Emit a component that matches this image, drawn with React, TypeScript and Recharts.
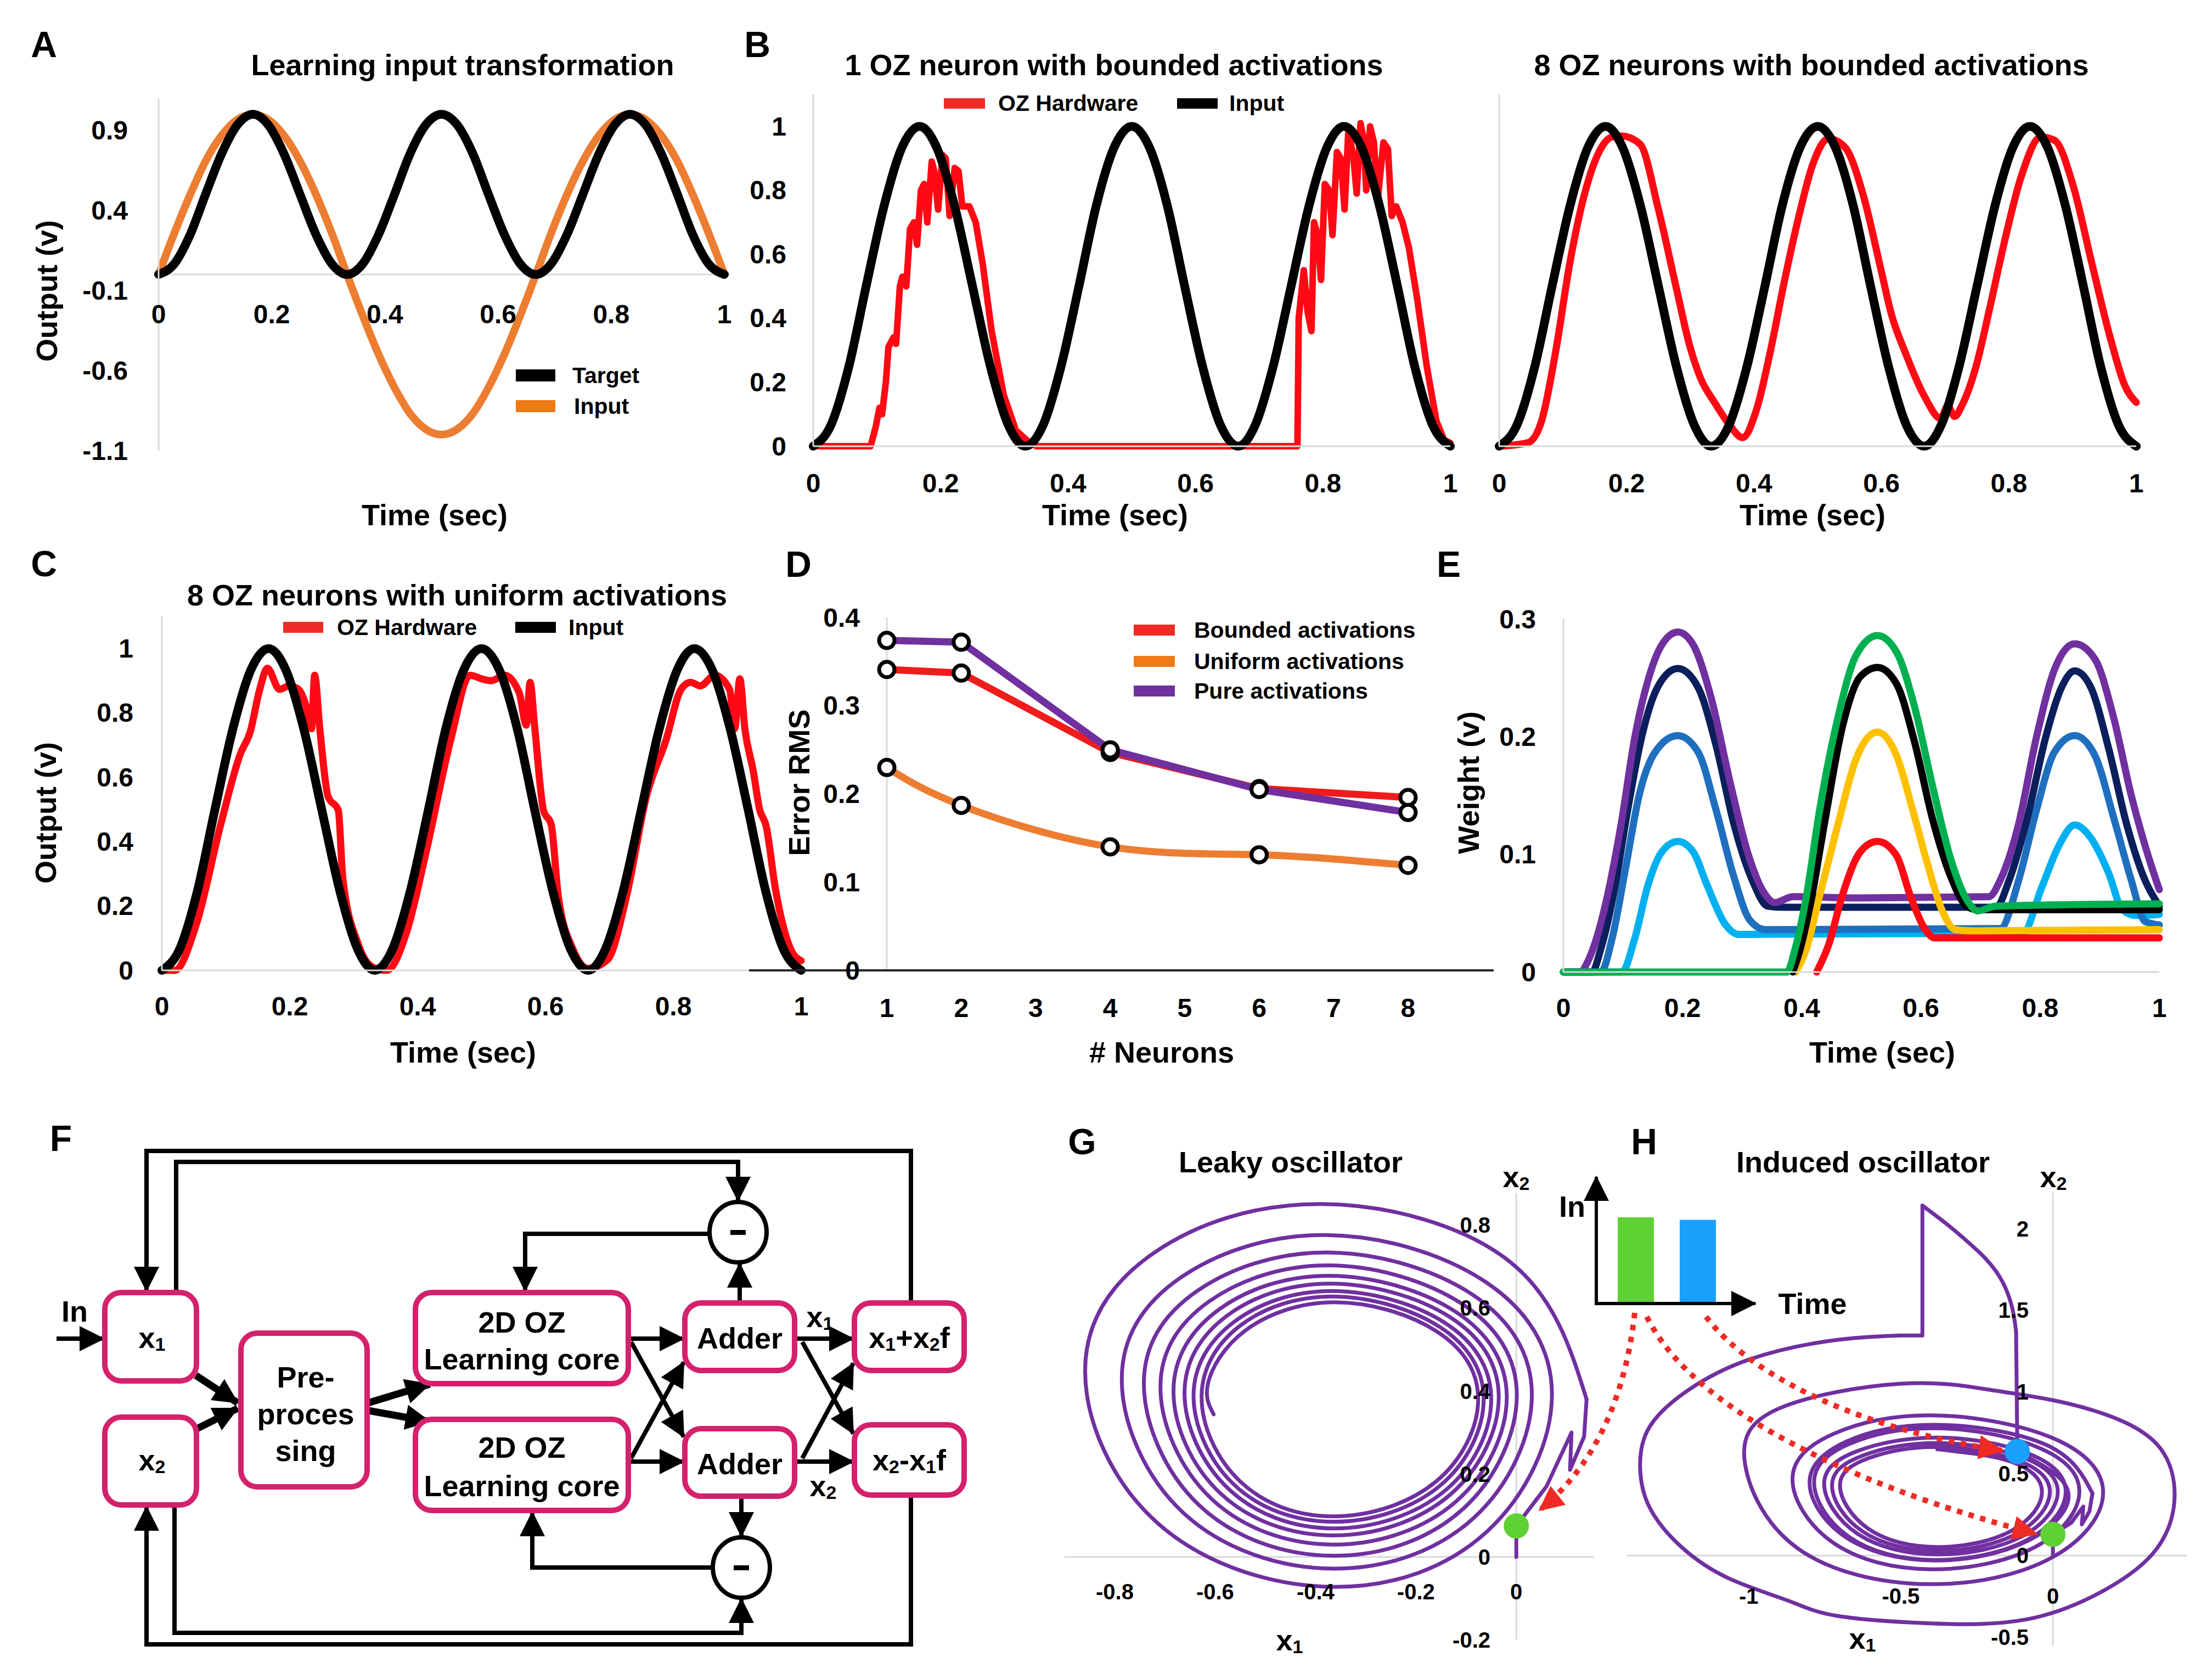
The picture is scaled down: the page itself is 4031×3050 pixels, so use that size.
import React from 'react';
import {
  LineChart,
  Line,
  XAxis,
  YAxis,
  ReferenceLine,
  ComposedChart,
  Scatter,
  BarChart,
  Bar,
  Cell,
} from 'recharts';

const FONT = '"Liberation Sans", Arial, Helvetica, sans-serif';
const GREY = '#d9d9d9';
const RED = '#ff0a14';
const PURPLE = '#7030a0';

// ---- shared time grid (1/36 s) for the clean sinusoid-like traces ----
const tGrid = [
  0, 0.028, 0.056, 0.083, 0.111, 0.139, 0.167, 0.194, 0.222, 0.25, 0.278, 0.306, 0.333, 0.361,
  0.389, 0.417, 0.444, 0.472, 0.5, 0.528, 0.556, 0.583, 0.611, 0.639, 0.667, 0.694, 0.722, 0.75,
  0.778, 0.806, 0.833, 0.861, 0.889, 0.917, 0.944, 0.972, 1,
];
const humps = [
  0, 0.067, 0.25, 0.5, 0.75, 0.933, 1, 0.933, 0.75, 0.5, 0.25, 0.067, 0, 0.067, 0.25, 0.5, 0.75,
  0.933, 1, 0.933, 0.75, 0.5, 0.25, 0.067, 0, 0.067, 0.25, 0.5, 0.75, 0.933, 1, 0.933, 0.75, 0.5,
  0.25, 0.067, 0,
];
const sineInput = [
  0, 0.259, 0.5, 0.707, 0.866, 0.966, 1, 0.966, 0.866, 0.707, 0.5, 0.259, 0, -0.259, -0.5, -0.707,
  -0.866, -0.966, -1, -0.966, -0.866, -0.707, -0.5, -0.259, 0, 0.259, 0.5, 0.707, 0.866, 0.966, 1,
  0.966, 0.866, 0.707, 0.5, 0.259, 0,
];

// ---- panel B / C hardware outputs [t, v] ----
const bLeftRed = [
  [0, 0], [0.09, 0], [0.098, 0.06], [0.104, 0.12], [0.108, 0.1], [0.114, 0.2], [0.118, 0.31],
  [0.126, 0.34], [0.13, 0.32], [0.136, 0.5], [0.14, 0.53], [0.146, 0.5], [0.152, 0.68],
  [0.158, 0.7], [0.163, 0.63], [0.169, 0.8], [0.174, 0.82], [0.179, 0.7], [0.186, 0.89],
  [0.19, 0.86], [0.196, 0.74], [0.203, 0.91], [0.208, 0.9], [0.214, 0.72], [0.222, 0.87],
  [0.228, 0.86], [0.234, 0.75], [0.245, 0.75], [0.255, 0.7], [0.266, 0.57], [0.28, 0.36],
  [0.299, 0.16], [0.318, 0.05], [0.34, 0.01], [0.35, 0], [0.76, 0], [0.762, 0.4], [0.77, 0.55],
  [0.776, 0.42], [0.782, 0.36], [0.786, 0.7], [0.792, 0.66], [0.797, 0.52], [0.803, 0.82],
  [0.81, 0.8], [0.815, 0.66], [0.822, 0.92], [0.828, 0.9], [0.834, 0.74], [0.84, 0.99],
  [0.848, 0.9], [0.853, 0.79], [0.859, 1.01], [0.864, 0.96], [0.868, 0.8], [0.874, 1.0],
  [0.88, 0.95], [0.886, 0.77], [0.895, 0.95], [0.902, 0.93], [0.908, 0.72], [0.915, 0.75],
  [0.925, 0.7], [0.935, 0.62], [0.948, 0.46], [0.963, 0.25], [0.978, 0.08], [0.99, 0.02],
  [1, 0.01],
];
const bRightRed = [
  [0, 0], [0.045, 0.011], [0.067, 0.082], [0.089, 0.3], [0.111, 0.574], [0.133, 0.781],
  [0.155, 0.913], [0.177, 0.967], [0.192, 0.97], [0.221, 0.945], [0.25, 0.74], [0.279, 0.486],
  [0.298, 0.322], [0.316, 0.213], [0.338, 0.137], [0.36, 0.071], [0.382, 0.027], [0.404, 0.115],
  [0.426, 0.3], [0.448, 0.519], [0.47, 0.716], [0.492, 0.88], [0.517, 0.962], [0.543, 0.934],
  [0.572, 0.781], [0.598, 0.563], [0.616, 0.41], [0.638, 0.29], [0.667, 0.158], [0.693, 0.087],
  [0.704, 0.126], [0.715, 0.093], [0.726, 0.126], [0.748, 0.246], [0.77, 0.432], [0.792, 0.63],
  [0.82, 0.847], [0.85, 0.967], [0.872, 0.956], [0.901, 0.814], [0.93, 0.574], [0.96, 0.333],
  [0.982, 0.19], [1, 0.137],
];
const cRed = [
  [0, 0], [0.02, 0], [0.054, 0.144], [0.092, 0.453], [0.123, 0.674], [0.138, 0.74],
  [0.153, 0.873], [0.165, 0.939], [0.184, 0.873], [0.199, 0.884], [0.214, 0.873], [0.226, 0.818],
  [0.234, 0.751], [0.239, 0.917], [0.247, 0.751], [0.26, 0.54], [0.276, 0.497], [0.283, 0.287],
  [0.306, 0.088], [0.329, 0.011], [0.352, 0], [0.383, 0.12], [0.413, 0.365], [0.452, 0.718],
  [0.482, 0.917], [0.5, 0.906], [0.515, 0.9], [0.536, 0.917], [0.559, 0.862], [0.57, 0.762],
  [0.576, 0.895], [0.583, 0.76], [0.597, 0.497], [0.609, 0.453], [0.62, 0.232], [0.643, 0.066],
  [0.666, 0.006], [0.697, 0.033], [0.727, 0.232], [0.758, 0.541], [0.789, 0.718], [0.812, 0.873],
  [0.827, 0.895], [0.842, 0.884], [0.865, 0.917], [0.888, 0.873], [0.896, 0.751], [0.904, 0.906],
  [0.912, 0.75], [0.925, 0.62], [0.935, 0.5], [0.945, 0.45], [0.96, 0.25], [0.985, 0.06],
  [1, 0.03],
];

// ---- panel D ----
const neurons = [1, 2, 4, 6, 8];
const rmsBounded = [0.341, 0.337, 0.247, 0.206, 0.196];
const rmsUniform = [0.23, 0.187, 0.14, 0.131, 0.119];
const rmsPure = [0.374, 0.372, 0.25, 0.205, 0.179];

// ---- panel E weights [t, w] ----
const ePurple = [
  [0, 0], [0.029, 0], [0.04, 0.008], [0.052, 0.023], [0.074, 0.065], [0.097, 0.126], [0.12, 0.2],
  [0.142, 0.248], [0.165, 0.278], [0.192, 0.289], [0.218, 0.278], [0.248, 0.233], [0.279, 0.163],
  [0.309, 0.102], [0.336, 0.068], [0.355, 0.059], [0.385, 0.064], [0.5, 0.063], [0.714, 0.064],
  [0.733, 0.078], [0.764, 0.126], [0.794, 0.2], [0.824, 0.257], [0.858, 0.279], [0.892, 0.266],
  [0.923, 0.217], [0.953, 0.15], [0.983, 0.096], [1, 0.07],
];
const eNavy = [
  [0, 0], [0.048, 0], [0.063, 0.02], [0.086, 0.071], [0.108, 0.138], [0.131, 0.199],
  [0.158, 0.242], [0.192, 0.258], [0.226, 0.242], [0.256, 0.193], [0.286, 0.126], [0.317, 0.078],
  [0.343, 0.056], [0.37, 0.055], [0.726, 0.055], [0.748, 0.078], [0.779, 0.132], [0.809, 0.199],
  [0.836, 0.242], [0.858, 0.256], [0.885, 0.242], [0.915, 0.19], [0.945, 0.126], [0.976, 0.078],
  [1, 0.056],
];
const eBlue = [
  [0, 0], [0.063, 0], [0.082, 0.029], [0.105, 0.09], [0.127, 0.15], [0.154, 0.187], [0.192, 0.201],
  [0.226, 0.187], [0.256, 0.138], [0.286, 0.081], [0.313, 0.044], [0.339, 0.036], [0.733, 0.037],
  [0.764, 0.078], [0.794, 0.138], [0.824, 0.187], [0.858, 0.201], [0.892, 0.184], [0.923, 0.132],
  [0.953, 0.078], [0.976, 0.043], [1, 0.04],
];
const eLight = [
  [0, 0], [0.098, 0], [0.12, 0.029], [0.142, 0.074], [0.165, 0.102], [0.192, 0.111],
  [0.218, 0.102], [0.241, 0.074], [0.271, 0.041], [0.294, 0.032], [0.771, 0.033], [0.802, 0.071],
  [0.832, 0.108], [0.858, 0.125], [0.885, 0.114], [0.915, 0.084], [0.938, 0.053], [0.961, 0.048],
  [1, 0.049],
];
const eGreen = [
  [0, 0], [0.375, 0], [0.389, 0.02], [0.408, 0.065], [0.43, 0.138], [0.461, 0.217], [0.491, 0.269],
  [0.527, 0.286], [0.559, 0.272], [0.589, 0.226], [0.62, 0.157], [0.65, 0.096], [0.68, 0.059],
  [0.695, 0.052], [0.726, 0.056], [1, 0.058],
];
const eBlack = [
  [0.385, 0], [0.396, 0.017], [0.415, 0.059], [0.438, 0.126], [0.468, 0.208], [0.498, 0.251],
  [0.527, 0.259], [0.559, 0.245], [0.589, 0.196], [0.62, 0.129], [0.65, 0.081], [0.677, 0.056],
  [0.695, 0.053], [1, 0.053],
];
const eYellow = [
  [0.39, 0], [0.408, 0.02], [0.43, 0.065], [0.461, 0.126], [0.491, 0.181], [0.527, 0.204],
  [0.559, 0.184], [0.586, 0.138], [0.612, 0.09], [0.635, 0.053], [0.658, 0.036], [0.688, 0.035],
  [1, 0.036],
];
const eRed = [
  [0.425, 0], [0.445, 0.023], [0.468, 0.065], [0.498, 0.102], [0.527, 0.111], [0.559, 0.099],
  [0.582, 0.065], [0.605, 0.038], [0.623, 0.029], [0.658, 0.029], [1, 0.029],
];

// ---- panel G leaky oscillator [x1, x2] ----
const gStart = [[0, 0], [0, 0.075], [0.06, 0.17], [0.11, 0.3], [0.107, 0.21], [0.135, 0.29], [0.14, 0.38]];
const gSpiral = [
  [0.14, 0.38], [-0.014, 0.713], [-0.387, 0.851], [-0.721, 0.734], [-0.859, 0.45], [-0.714, 0.081],
  [-0.365, -0.072], [-0.057, 0.063], [0.071, 0.39], [-0.061, 0.663], [-0.38, 0.776], [-0.667, 0.675],
  [-0.786, 0.43], [-0.663, 0.106], [-0.365, -0.028], [-0.085, 0.094], [0.031, 0.39], [-0.088, 0.633],
  [-0.376, 0.734], [-0.635, 0.642], [-0.742, 0.42], [-0.632, 0.125], [-0.365, 0.003], [-0.106, 0.116],
  [0.001, 0.39], [-0.109, 0.611], [-0.374, 0.703], [-0.611, 0.617], [-0.709, 0.41], [-0.608, 0.141],
  [-0.365, 0.03], [-0.12, 0.134], [-0.019, 0.385], [-0.122, 0.592], [-0.372, 0.678], [-0.592, 0.597],
  [-0.683, 0.4], [-0.59, 0.154], [-0.365, 0.052], [-0.132, 0.15], [-0.035, 0.385], [-0.133, 0.579],
  [-0.37, 0.659], [-0.576, 0.582], [-0.661, 0.395], [-0.574, 0.165], [-0.365, 0.069], [-0.142, 0.16],
  [-0.05, 0.38], [-0.143, 0.565], [-0.368, 0.641], [-0.562, 0.567], [-0.643, 0.39], [-0.562, 0.174],
  [-0.365, 0.085], [-0.153, 0.171], [-0.065, 0.38], [-0.153, 0.555], [-0.366, 0.628], [-0.551, 0.557],
  [-0.627, 0.385], [-0.55, 0.182], [-0.365, 0.098], [-0.161, 0.181], [-0.076, 0.38], [-0.16, 0.545],
  [-0.364, 0.614], [-0.541, 0.545], [-0.614, 0.42], [-0.603, 0.344],
];
const gDot = [[0, 0.075]];

// ---- panel H induced oscillator [x1, x2] ----
const hStart = [[0, 0], [0, 0.13], [0.06, 0.2], [0.1, 0.3], [0.095, 0.19], [0.12, 0.27], [0.13, 0.38]];
const hInner = [
  [0.13, 0.38], [-0.022, 0.677], [-0.39, 0.8], [-0.68, 0.697], [-0.8, 0.45], [-0.68, 0.111],
  [-0.39, -0.03], [-0.079, 0.093], [0.05, 0.39], [-0.117, 0.636],
];
const hRise = [[-0.117, 0.636], [-0.121, 1.369]];
const hArc = [
  [-0.121, 1.369], [-0.134, 1.517], [-0.166, 1.676], [-0.219, 1.812], [-0.284, 1.926],
  [-0.349, 2.028], [-0.429, 2.141],
];
const hDrop = [[-0.429, 2.141], [-0.429, 1.346], [-0.505, 1.346]];
const hOuter = [
  [-0.505, 1.346], [-0.739, 1.312], [-0.999, 1.199], [-1.195, 1.017], [-1.325, 0.79], [-1.357, 0.54],
  [-1.325, 0.291], [-1.221, 0.052], [-1.064, -0.141], [-0.869, -0.277], [-0.713, -0.368],
  [-0.414, -0.414], [-0.088, -0.391], [0.172, -0.209], [0.341, 0.041], [0.4, 0.359], [0.354, 0.654],
  [0.211, 0.836], [0.003, 0.949], [-0.219, 1.017], [-0.505, 1.051], [-0.9, 0.9], [-1.012, 0.56],
  [-0.836, 0.04], [-0.41, -0.175], [-0.003, -0.012], [0.165, 0.38], [0, 0.718], [-0.4, 0.858],
  [-0.722, 0.744], [-0.856, 0.47], [-0.722, 0.078], [-0.4, -0.084], [-0.056, 0.055], [0.087, 0.39],
  [-0.053, 0.665], [-0.39, 0.779], [-0.669, 0.683], [-0.785, 0.45], [-0.669, 0.113], [-0.39, -0.027],
  [-0.085, 0.095], [0.042, 0.39], [-0.082, 0.625], [-0.38, 0.722], [-0.643, 0.639], [-0.752, 0.44],
  [-0.643, 0.134], [-0.38, 0.007], [-0.1, 0.119], [0.016, 0.39], [-0.1, 0.601], [-0.38, 0.688],
  [-0.625, 0.612], [-0.726, 0.43], [-0.625, 0.147], [-0.38, 0.029], [-0.118, 0.135], [-0.01, 0.39],
  [-0.118, 0.584], [-0.38, 0.665], [-0.606, 0.596], [-0.7, 0.43], [-0.606, 0.163], [-0.38, 0.052],
  [-0.137, 0.151], [-0.036, 0.39], [-0.137, 0.574], [-0.38, 0.65],
];
const hGreenDot = [[0, 0.13]];
const hBlueDot = [[-0.117, 0.636]];
const pulses = [
  { name: 'first', v: 1.0, color: '#5fd134' },
  { name: 'second', v: 0.97, color: '#18a0fb' },
];

// ---- tick lists ----
const timeTicks = [0, 0.2, 0.4, 0.6, 0.8, 1];
const aTicks = [-1.1, -0.6, -0.1, 0.4, 0.9];
const unitTicks = [0, 0.2, 0.4, 0.6, 0.8, 1];
const neuronTicks = [1, 2, 3, 4, 5, 6, 7, 8];
const rmsTicks = [0, 0.1, 0.2, 0.3, 0.4];
const weightTicks = [0, 0.1, 0.2, 0.3];
const gxTicks = [-0.8, -0.6, -0.4, -0.2, 0];
const gyTicks = [-0.2, 0, 0.2, 0.4, 0.6, 0.8];
const hxTicks = [-1, -0.5, 0];
const hyTicks = [-0.5, 0, 0.5, 1, 1.5, 2];

const xy = (p: number[][]) => p.map(([x, y]) => ({ x, y }));
const zip = (xs: number[], ys: number[]) => xs.map((x, i) => ({ x, y: ys[i] }));

const Tick = (props: any) => {
  const { x, y, payload, ox = 0, oy = 0, anc = 'middle', fs = 48 } = props;
  return (
    <text
      x={x + ox}
      y={y + oy}
      textAnchor={anc}
      dominantBaseline="central"
      fontFamily={FONT}
      fontWeight={700}
      fontSize={fs}
      fill="#000"
    >
      {String(payload.value)}
    </text>
  );
};

const Box = ({ left, top, children }: any) => (
  <div style={{ position: 'absolute', left, top }}>{children}</div>
);

const T = ({ x, y, s = 54, a = 'middle', r, children }: any) => (
  <text
    x={x}
    y={y}
    fontSize={s}
    textAnchor={a}
    dominantBaseline="central"
    fontWeight={700}
    fontFamily={FONT}
    fill="#000"
    transform={r ? `rotate(${r} ${x} ${y})` : undefined}
  >
    {children}
  </text>
);

const sub = (c: string, fs = 34) => (
  <>
    <tspan fontSize={fs} dy={12}>{c}</tspan>
    <tspan dy={-12}> </tspan>
  </>
);

const lineProps = { dot: false, isAnimationActive: false, strokeLinecap: 'round', strokeLinejoin: 'round' } as any;
const ring = { r: 14, fill: '#fff', stroke: '#000', strokeWidth: 7 };

const PinkBox = ({ x, y, w, h }: any) => (
  <rect x={x} y={y} width={w} height={h} rx={30} ry={30} fill="#fff" stroke="#d4216c" strokeWidth={10} />
);

const App = () => {
  const dotShape = (color: string) => (p: any) => <circle cx={p.cx} cy={p.cy} r={23} fill={color} />;
  return (
    <div
      style={{
        position: 'absolute',
        left: 0,
        top: 0,
        width: 4031,
        height: 3050,
        background: '#fff',
        overflow: 'hidden',
      }}
    >
      {/* A */}
      <Box left={89} top={159}>
        <LineChart width={1251} height={762} margin={{ top: 20, right: 20, left: 0, bottom: 0 }}>
          <XAxis type="number" dataKey="x" domain={[0, 1]} ticks={timeTicks} interval={0} height={100}
            axisLine={false} tickLine={false} tickSize={0} tickMargin={0} tick={<Tick oy={-249} />} />
          <YAxis type="number" domain={[-1.1, 1.1]} ticks={aTicks} interval={0} width={200}
            axisLine={{ stroke: GREY, strokeWidth: 3 }} tickLine={false} tickSize={0} tickMargin={0}
            tick={<Tick ox={-56} anc="end" />} />
          <ReferenceLine y={0} stroke={GREY} strokeWidth={3} />
          <Line data={zip(tGrid, sineInput)} dataKey="y" type="monotone" stroke="#ed7d31" strokeWidth={14} {...lineProps} />
          <Line data={zip(tGrid, humps)} dataKey="y" type="monotone" stroke="#000" strokeWidth={16} {...lineProps} />
        </LineChart>
      </Box>

      {/* B left */}
      <Box left={1332} top={152}>
        <LineChart width={1331} height={761} margin={{ top: 20, right: 20, left: 0, bottom: 0 }}>
          <XAxis type="number" dataKey="x" domain={[0, 1]} ticks={timeTicks} interval={0} height={100}
            axisLine={{ stroke: GREY, strokeWidth: 3 }} tickLine={false} tickSize={0} tickMargin={0} tick={<Tick oy={67} />} />
          <YAxis type="number" domain={[0, 1.1]} ticks={unitTicks} interval={0} width={150}
            axisLine={{ stroke: GREY, strokeWidth: 3 }} tickLine={false} tickSize={0} tickMargin={0}
            tick={<Tick ox={-49} anc="end" />} />
          <Line data={xy(bLeftRed)} dataKey="y" type="linear" stroke={RED} strokeWidth={12} {...lineProps} />
          <Line data={zip(tGrid, humps)} dataKey="y" type="monotone" stroke="#000" strokeWidth={16} {...lineProps} />
        </LineChart>
      </Box>

      {/* B right */}
      <Box left={2712} top={152}>
        <LineChart width={1211} height={761} margin={{ top: 20, right: 30, left: 0, bottom: 0 }}>
          <XAxis type="number" dataKey="x" domain={[0, 1]} ticks={timeTicks} interval={0} height={100}
            axisLine={{ stroke: GREY, strokeWidth: 3 }} tickLine={false} tickSize={0} tickMargin={0} tick={<Tick oy={67} />} />
          <YAxis type="number" domain={[0, 1.1]} width={20} axisLine={{ stroke: GREY, strokeWidth: 3 }}
            tickLine={false} tick={false} />
          <Line data={xy(bRightRed)} dataKey="y" type="monotone" stroke={RED} strokeWidth={13} {...lineProps} />
          <Line data={zip(tGrid, humps)} dataKey="y" type="monotone" stroke="#000" strokeWidth={16} {...lineProps} />
        </LineChart>
      </Box>

      {/* C */}
      <Box left={95} top={1103}>
        <LineChart width={1385} height={765} margin={{ top: 20, right: 20, left: 0, bottom: 0 }}>
          <XAxis type="number" dataKey="x" domain={[0, 1]} ticks={timeTicks} interval={0} height={100}
            axisLine={{ stroke: GREY, strokeWidth: 3 }} tickLine={false} tickSize={0} tickMargin={0} tick={<Tick oy={65} />} />
          <YAxis type="number" domain={[0, 1.1]} ticks={unitTicks} interval={0} width={200}
            axisLine={{ stroke: GREY, strokeWidth: 3 }} tickLine={false} tickSize={0} tickMargin={0}
            tick={<Tick ox={-52} anc="end" />} />
          <Line data={xy(cRed)} dataKey="y" type="monotone" stroke={RED} strokeWidth={13} {...lineProps} />
          <Line data={zip(tGrid, humps)} dataKey="y" type="monotone" stroke="#000" strokeWidth={16} {...lineProps} />
        </LineChart>
      </Box>

      {/* D */}
      <Box left={1345} top={1085}>
        <LineChart width={1397} height={783} margin={{ top: 40, right: 20, left: 0, bottom: 0 }}>
          <XAxis type="number" dataKey="x" domain={[-0.85, 9.15]} ticks={neuronTicks} interval={0} height={100}
            axisLine={{ stroke: '#262626', strokeWidth: 4 }} tickLine={false} tickSize={0} tickMargin={0}
            tick={<Tick oy={68} />} />
          <YAxis type="number" domain={[0, 0.4]} ticks={rmsTicks} interval={0} width={20} axisLine={false}
            tickLine={false} tickSize={0} tickMargin={0} tick={<Tick ox={202} anc="end" />} />
          <ReferenceLine x={1} stroke={GREY} strokeWidth={3} />
          <Line data={zip(neurons, rmsUniform)} dataKey="y" type="natural" stroke="#ed7d31" strokeWidth={13}
            {...lineProps} dot={ring} />
          <Line data={zip(neurons, rmsBounded)} dataKey="y" type="linear" stroke="#f01c1c" strokeWidth={13}
            {...lineProps} dot={ring} />
          <Line data={zip(neurons, rmsPure)} dataKey="y" type="linear" stroke={PURPLE} strokeWidth={13}
            {...lineProps} dot={ring} />
        </LineChart>
      </Box>

      {/* E */}
      <Box left={2699} top={1088}>
        <LineChart width={1266} height={783} margin={{ top: 40, right: 30, left: 0, bottom: 0 }}>
          <XAxis type="number" dataKey="x" domain={[0, 1]} ticks={timeTicks} interval={0} height={100}
            axisLine={{ stroke: GREY, strokeWidth: 3 }} tickLine={false} tickSize={0} tickMargin={0} tick={<Tick oy={65} />} />
          <YAxis type="number" domain={[0, 0.3]} ticks={weightTicks} interval={0} width={150}
            axisLine={{ stroke: GREY, strokeWidth: 3 }} tickLine={false} tickSize={0} tickMargin={0}
            tick={<Tick ox={-50} anc="end" />} />
          <Line data={xy(eLight)} dataKey="y" type="monotone" stroke="#00b0f0" strokeWidth={13} {...lineProps} />
          <Line data={xy(eBlue)} dataKey="y" type="monotone" stroke="#1f6fbf" strokeWidth={13} {...lineProps} />
          <Line data={xy(eNavy)} dataKey="y" type="monotone" stroke="#0b1f5c" strokeWidth={13} {...lineProps} />
          <Line data={xy(ePurple)} dataKey="y" type="monotone" stroke={PURPLE} strokeWidth={13} {...lineProps} />
          <Line data={xy(eRed)} dataKey="y" type="monotone" stroke={RED} strokeWidth={13} {...lineProps} />
          <Line data={xy(eYellow)} dataKey="y" type="monotone" stroke="#ffc000" strokeWidth={13} {...lineProps} />
          <Line data={xy(eBlack)} dataKey="y" type="monotone" stroke="#000" strokeWidth={13} {...lineProps} />
          <Line data={xy(eGreen)} dataKey="y" type="monotone" stroke="#00b050" strokeWidth={13} {...lineProps} />
        </LineChart>
      </Box>

      {/* G */}
      <Box left={1930} top={2164}>
        <ComposedChart width={985} height={864} margin={{ top: 10, right: 10, left: 0, bottom: 0 }}>
          <XAxis type="number" dataKey="x" domain={[-0.9, 0.155]} ticks={gxTicks} interval={0} height={40}
            axisLine={false} tickLine={false} tickSize={0} tickMargin={0} tick={<Tick oy={-88} fs={40} />} />
          <YAxis type="number" domain={[-0.2, 0.877]} ticks={gyTicks} interval={0} width={10} axisLine={false}
            tickLine={false} tickSize={0} tickMargin={0} tick={<Tick ox={776} anc="end" fs={40} />} />
          <ReferenceLine x={0} stroke={GREY} strokeWidth={3} />
          <ReferenceLine y={0} stroke={GREY} strokeWidth={3} />
          <Line data={xy(gStart)} dataKey="y" type="linear" stroke={PURPLE} strokeWidth={7} {...lineProps} />
          <Line data={xy(gSpiral)} dataKey="y" type="natural" stroke={PURPLE} strokeWidth={7} {...lineProps} />
          <Scatter data={xy(gDot)} dataKey="y" isAnimationActive={false} shape={dotShape('#5fd134')} />
        </ComposedChart>
      </Box>

      {/* H */}
      <Box left={2955} top={2163}>
        <ComposedChart width={1040} height={875} margin={{ top: 10, right: 10, left: 0, bottom: 0 }}>
          <XAxis type="number" dataKey="x" domain={[-1.4, 0.44]} ticks={hxTicks} interval={0} height={40}
            axisLine={false} tickLine={false} tickSize={0} tickMargin={0} tick={<Tick oy={-90} fs={40} />} />
          <YAxis type="number" domain={[-0.55, 2.22]} ticks={hyTicks} interval={0} width={10} axisLine={false}
            tickLine={false} tickSize={0} tickMargin={0} tick={<Tick ox={732} anc="end" fs={40} />} />
          <ReferenceLine x={0} stroke={GREY} strokeWidth={3} />
          <ReferenceLine y={0} stroke={GREY} strokeWidth={3} />
          <Line data={xy(hOuter)} dataKey="y" type="natural" stroke={PURPLE} strokeWidth={7} {...lineProps} />
          <Line data={xy(hStart)} dataKey="y" type="linear" stroke={PURPLE} strokeWidth={7} {...lineProps} />
          <Line data={xy(hInner)} dataKey="y" type="natural" stroke={PURPLE} strokeWidth={7} {...lineProps} />
          <Line data={xy(hRise)} dataKey="y" type="linear" stroke={PURPLE} strokeWidth={7} {...lineProps} />
          <Line data={xy(hArc)} dataKey="y" type="natural" stroke={PURPLE} strokeWidth={7} {...lineProps} />
          <Line data={xy(hDrop)} dataKey="y" type="linear" stroke={PURPLE} strokeWidth={7} {...lineProps} />
          <Scatter data={xy(hGreenDot)} dataKey="y" isAnimationActive={false} shape={dotShape('#5fd134')} />
          <Scatter data={xy(hBlueDot)} dataKey="y" isAnimationActive={false} shape={dotShape('#18a0fb')} />
        </ComposedChart>
      </Box>

      {/* H inset: input pulses */}
      <Box left={2924} top={2144}>
        <BarChart width={226} height={228} data={pulses} margin={{ top: 0, right: 0, left: 0, bottom: 0 }}>
          <XAxis dataKey="name" hide />
          <YAxis domain={[0, 1.48]} hide />
          <Bar dataKey="v" barSize={66} isAnimationActive={false}>
            {pulses.map((p) => (
              <Cell key={p.name} fill={p.color} />
            ))}
          </Bar>
        </BarChart>
      </Box>

      {/* overlay: text, diagram F, arrows */}
      <svg width={4031} height={3050} style={{ position: 'absolute', left: 0, top: 0, pointerEvents: 'none' }}>
        <defs>
          <marker id="ah" markerUnits="userSpaceOnUse" markerWidth={46} markerHeight={46} refX={44} refY={23} orient="auto">
            <path d="M0,0 L46,23 L0,46 z" fill="#000" />
          </marker>
          <marker id="ahr" markerUnits="userSpaceOnUse" markerWidth={46} markerHeight={44} refX={44} refY={22} orient="auto">
            <path d="M0,0 L46,22 L0,44 z" fill="#ee2b24" />
          </marker>
        </defs>

        {/* panel letters */}
        <T x={80} y={81} s={66}>A</T>
        <T x={1380} y={81} s={66}>B</T>
        <T x={80} y={1027} s={66}>C</T>
        <T x={1455} y={1028} s={66}>D</T>
        <T x={2640} y={1028} s={66}>E</T>
        <T x={111} y={2074} s={66}>F</T>
        <T x={1972} y={2080} s={66}>G</T>
        <T x={2996} y={2080} s={66}>H</T>

        {/* titles */}
        <T x={843} y={118}>Learning input transformation</T>
        <T x={2030} y={118}>1 OZ neuron with bounded activations</T>
        <T x={3301} y={118}>8 OZ neurons with bounded activations</T>
        <T x={833} y={1084}>8 OZ neurons with uniform activations</T>
        <T x={2352} y={2117}>Leaky oscillator</T>
        <T x={3395} y={2117}>Induced oscillator</T>

        {/* axis titles */}
        <T x={792} y={938}>Time (sec)</T>
        <T x={2032} y={938}>Time (sec)</T>
        <T x={3303} y={938}>Time (sec)</T>
        <T x={844} y={1917}>Time (sec)</T>
        <T x={3430} y={1917}>Time (sec)</T>
        <T x={2117} y={1917}># Neurons</T>
        <T x={85} y={530} r={-90}>Output (v)</T>
        <T x={83} y={1481} r={-90}>Output (v)</T>
        <T x={1456} y={1426} r={-90}>Error RMS</T>
        <T x={2676} y={1426} r={-90}>Weight (v)</T>

        {/* legends */}
        <rect x={940} y={673} width={72} height={22} fill="#000" />
        <T x={1043} y={684} s={41} a="start">Target</T>
        <rect x={940} y={729} width={72} height={22} fill="#f07a14" />
        <T x={1046} y={740} s={41} a="start">Input</T>

        <rect x={1720} y={179} width={75} height={19} fill="#ee2b24" />
        <T x={1819} y={188} s={41} a="start">OZ Hardware</T>
        <rect x={2145} y={179} width={74} height={19} fill="#000" />
        <T x={2240} y={188} s={41} a="start">Input</T>

        <rect x={516} y={1133} width={73} height={20} fill="#ee2b24" />
        <T x={614} y={1143} s={41} a="start">OZ Hardware</T>
        <rect x={939} y={1133} width={74} height={20} fill="#000" />
        <T x={1036} y={1143} s={41} a="start">Input</T>

        <rect x={2066} y={1138} width={75} height={20} fill="#ee2b24" />
        <T x={2176} y={1148} s={41} a="start">Bounded activations</T>
        <rect x={2066} y={1195} width={75} height={20} fill="#f07a14" />
        <T x={2176} y={1205} s={41} a="start">Uniform activations</T>
        <rect x={2066} y={1249} width={75} height={20} fill={PURPLE} />
        <T x={2176} y={1259} s={41} a="start">Pure activations</T>

        {/* G / H axis names */}
        <T x={2350} y={2988}>x{sub('1')}</T>
        <T x={2763} y={2144}>x{sub('2')}</T>
        <T x={3394} y={2985}>x{sub('1')}</T>
        <T x={3742} y={2144}>x{sub('2')}</T>

        {/* H inset axes */}
        <line x1={2909} y1={2378} x2={2909} y2={2144} stroke="#000" strokeWidth={6} markerEnd="url(#ah)" />
        <line x1={2906} y1={2375} x2={3199} y2={2375} stroke="#000" strokeWidth={6} markerEnd="url(#ah)" />
        <T x={2865} y={2198}>In</T>
        <T x={3303} y={2375}>Time</T>

        {/* red dotted pulse arrows */}
        <g fill="none" stroke="#ee2b24" strokeWidth={10} strokeDasharray="10 12">
          <path d="M2979,2392 C2965,2520 2920,2660 2805,2752" markerEnd="url(#ahr)" />
          <path d="M3001,2399 C3080,2560 3350,2700 3712,2795" markerEnd="url(#ahr)" />
          <path d="M3109,2399 C3200,2520 3420,2610 3650,2643" markerEnd="url(#ahr)" />
        </g>

        {/* F: block diagram */}
        <g fill="none" stroke="#000" strokeWidth={8}>
          <path d="M1660,2374 V2097 H267 V2352" markerEnd="url(#ah)" />
          <path d="M1660,2724 V2996 H267 V2745" markerEnd="url(#ah)" />
          <path d="M321,2355 V2117 H1345 V2188" markerEnd="url(#ah)" />
          <path d="M318,2742 V2975 H1351 V2913" markerEnd="url(#ah)" />
          <path d="M1292,2248 H957 V2352" markerEnd="url(#ah)" />
          <path d="M1298,2856 H970 V2755" markerEnd="url(#ah)" />
          <path d="M1348,2374 V2302" markerEnd="url(#ah)" />
          <path d="M1351,2726 V2799" markerEnd="url(#ah)" />
          <path d="M103,2439 H189" markerEnd="url(#ah)" />
          <path d="M1145,2439 H1246" markerEnd="url(#ah)" />
          <path d="M1145,2663 H1246" markerEnd="url(#ah)" />
          <path d="M1150,2445 L1246,2618" markerEnd="url(#ah)" />
          <path d="M1150,2657 L1246,2482" markerEnd="url(#ah)" />
          <path d="M1448,2439 H1555" markerEnd="url(#ah)" />
          <path d="M1448,2663 H1555" markerEnd="url(#ah)" />
          <path d="M1462,2445 L1555,2612" markerEnd="url(#ah)" />
          <path d="M1462,2657 L1555,2484" markerEnd="url(#ah)" />
        </g>
        <g fill="none" stroke="#000" strokeWidth={13}>
          <path d="M357,2506 L433,2556" markerEnd="url(#ah)" />
          <path d="M357,2604 L433,2566" markerEnd="url(#ah)" />
          <path d="M671,2556 L783,2522" markerEnd="url(#ah)" />
          <path d="M671,2570 L783,2590" markerEnd="url(#ah)" />
        </g>
        <ellipse cx={1345} cy={2245} rx={52} ry={55} fill="#fff" stroke="#000" strokeWidth={8} />
        <rect x={1331} y={2241} width={28} height={9} fill="#000" />
        <ellipse cx={1351} cy={2856} rx={52} ry={55} fill="#fff" stroke="#000" strokeWidth={8} />
        <rect x={1337} y={2852} width={28} height={9} fill="#000" />

        <PinkBox x={191} y={2355} w={167} h={161} />
        <PinkBox x={191} y={2582} w={167} h={160} />
        <PinkBox x={439} y={2429} w={230} h={280} />
        <PinkBox x={757} y={2355} w={388} h={166} />
        <PinkBox x={757} y={2586} w={388} h={166} />
        <PinkBox x={1248} y={2374} w={200} h={123} />
        <PinkBox x={1248} y={2603} w={200} h={123} />
        <PinkBox x={1557} y={2374} w={200} h={123} />
        <PinkBox x={1557} y={2596} w={200} h={128} />

        <T x={136} y={2389}>In</T>
        <T x={277} y={2437}>x{sub('1')}</T>
        <T x={277} y={2660}>x{sub('2')}</T>
        <T x={557} y={2509}>Pre-</T>
        <T x={557} y={2576}>proces</T>
        <T x={557} y={2643}>sing</T>
        <T x={951} y={2409}>2D OZ</T>
        <T x={951} y={2476}>Learning core</T>
        <T x={951} y={2637}>2D OZ</T>
        <T x={951} y={2707}>Learning core</T>
        <T x={1348} y={2438}>Adder</T>
        <T x={1348} y={2667}>Adder</T>
        <T x={1657} y={2437}>
          x<tspan fontSize={34} dy={12}>1</tspan>
          <tspan dy={-12}>+x</tspan>
          <tspan fontSize={34} dy={12}>2</tspan>
          <tspan dy={-12}>f</tspan>
        </T>
        <T x={1657} y={2660}>
          x<tspan fontSize={34} dy={12}>2</tspan>
          <tspan dy={-12}>-x</tspan>
          <tspan fontSize={34} dy={12}>1</tspan>
          <tspan dy={-12}>f</tspan>
        </T>
        <T x={1494} y={2399}>x{sub('1')}</T>
        <T x={1500} y={2707}>x{sub('2')}</T>
      </svg>
    </div>
  );
};

export default App;
